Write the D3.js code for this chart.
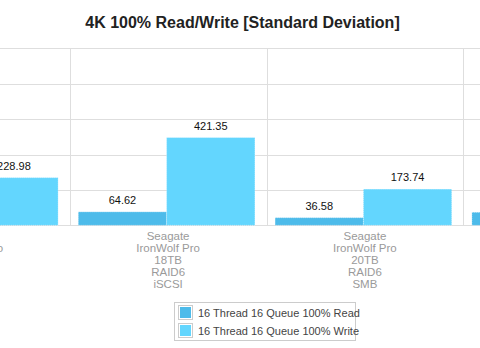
<!DOCTYPE html>
<html>
<head>
<meta charset="utf-8">
<script src="https://cdn.jsdelivr.net/npm/d3@7"></script>
<style>
  html, body { margin: 0; padding: 0; background: #fff; }
  svg { display: block; font-family: 'Liberation Sans', Arial, sans-serif; }
</style>
</head>
<body>
<div id="chart"></div>
<script>
(function() {
  // data (the chart is a cropped view: first and last groups are only partly visible)
  var categories = [
    ['Seagate', 'IronWolf Pro', '18TB', 'RAID6', 'SMB'],
    ['Seagate', 'IronWolf Pro', '18TB', 'RAID6', 'iSCSI'],
    ['Seagate', 'IronWolf Pro', '20TB', 'RAID6', 'SMB'],
    ['Seagate', 'IronWolf Pro', '20TB', 'RAID6', 'iSCSI']
  ];
  var seriesNames = ['16 Thread 16 Queue 100% Read', '16 Thread 16 Queue 100% Write'];
  var readValues = [48.5, 64.62, 36.58, 62.5];
  var writeValues = [228.98, 421.35, 173.74, 240];
  var gridTicks = [0, 170, 340, 510, 680, 850];
  var colors = ['#4dbbea', '#63d6fe'];

  var w = 480, h = 348;
  var top = 48.3, bottom = 225.3;

  var svg = d3.select('#chart').append('svg').attr('width', w).attr('height', h);

  var keys = categories.map(function(c) { return c.join(' '); });
  var x0 = d3.scaleBand().domain(keys).range([-127.1, -127.1 + 196.8 * 4]).padding(0);
  var x1 = d3.scaleBand().domain(['read', 'write']).range([8.6, x0.bandwidth() - 11.6]).padding(0);
  var y = d3.scaleLinear().domain([0, 850]).range([bottom, top]);

  // Title
  svg.append('text').attr('x', 242.5).attr('y', 28)
    .attr('text-anchor', 'middle').attr('font-size', '16px').attr('font-weight', 'bold')
    .attr('fill', '#222').text('4K 100% Read/Write [Standard Deviation]');

  // horizontal grid
  svg.append('g').selectAll('line').data(gridTicks).join('line')
    .attr('x1', 0).attr('x2', w)
    .attr('y1', function(d) { return Math.round(y(d)) + 0.5; })
    .attr('y2', function(d) { return Math.round(y(d)) + 0.5; })
    .attr('stroke', '#dedede').attr('stroke-width', 1);

  // vertical grid at group boundaries
  svg.append('g').selectAll('line').data(keys).join('line')
    .attr('x1', function(d) { return Math.round(x0(d) + x0.step()) + 0.5; })
    .attr('x2', function(d) { return Math.round(x0(d) + x0.step()) + 0.5; })
    .attr('y1', y(850)).attr('y2', y(0))
    .attr('stroke', '#dedede').attr('stroke-width', 1);

  // bars
  var groups = svg.append('g').selectAll('g').data(keys).join('g')
    .attr('transform', function(d) { return 'translate(' + x0(d) + ',0)'; });

  groups.each(function(k, i) {
    var gg = d3.select(this);
    var vals = [{ s: 'read', v: readValues[i], c: colors[0] }, { s: 'write', v: writeValues[i], c: colors[1] }];
    vals.forEach(function(b) {
      gg.append('rect')
        .attr('x', x1(b.s)).attr('y', y(b.v))
        .attr('width', x1.bandwidth()).attr('height', y(0) - y(b.v))
        .attr('fill', b.c)
        .attr('stroke', '#fff').attr('stroke-opacity', 0.45).attr('stroke-dasharray', '1,1');
      gg.append('text')
        .attr('x', x1(b.s) + x1.bandwidth() / 2).attr('y', y(b.v) - 8)
        .attr('text-anchor', 'middle').attr('font-size', '11px').attr('fill', '#111')
        .text(b.v.toFixed(2));
    });

    // category label
    var lbl = gg.append('text').attr('text-anchor', 'middle').attr('font-size', '11.5px')
      .attr('fill', '#9a9a9a');
    categories[i].forEach(function(line, j) {
      lbl.append('tspan').attr('x', x0.bandwidth() / 2).attr('y', 240 + j * 11.9).text(line);
    });
  });

  // legend
  var lg = svg.append('g');
  lg.append('rect').attr('x', 174.5).attr('y', 302.5).attr('width', 181).attr('height', 38)
    .attr('fill', '#fff').attr('stroke', '#ccc');
  seriesNames.forEach(function(name, i) {
    var yy = 305 + i * 18;
    lg.append('rect').attr('x', 178.5).attr('y', yy + 0.5).attr('width', 14).attr('height', 14)
      .attr('fill', '#fff').attr('stroke', '#ccc');
    lg.append('rect').attr('x', 180).attr('y', yy + 2).attr('width', 11).attr('height', 11)
      .attr('fill', colors[i]);
    lg.append('text').attr('x', 198).attr('y', yy + 11.5)
      .attr('font-size', '11px').attr('fill', '#444').text(name);
  });
})();
</script>
</body>
</html>
